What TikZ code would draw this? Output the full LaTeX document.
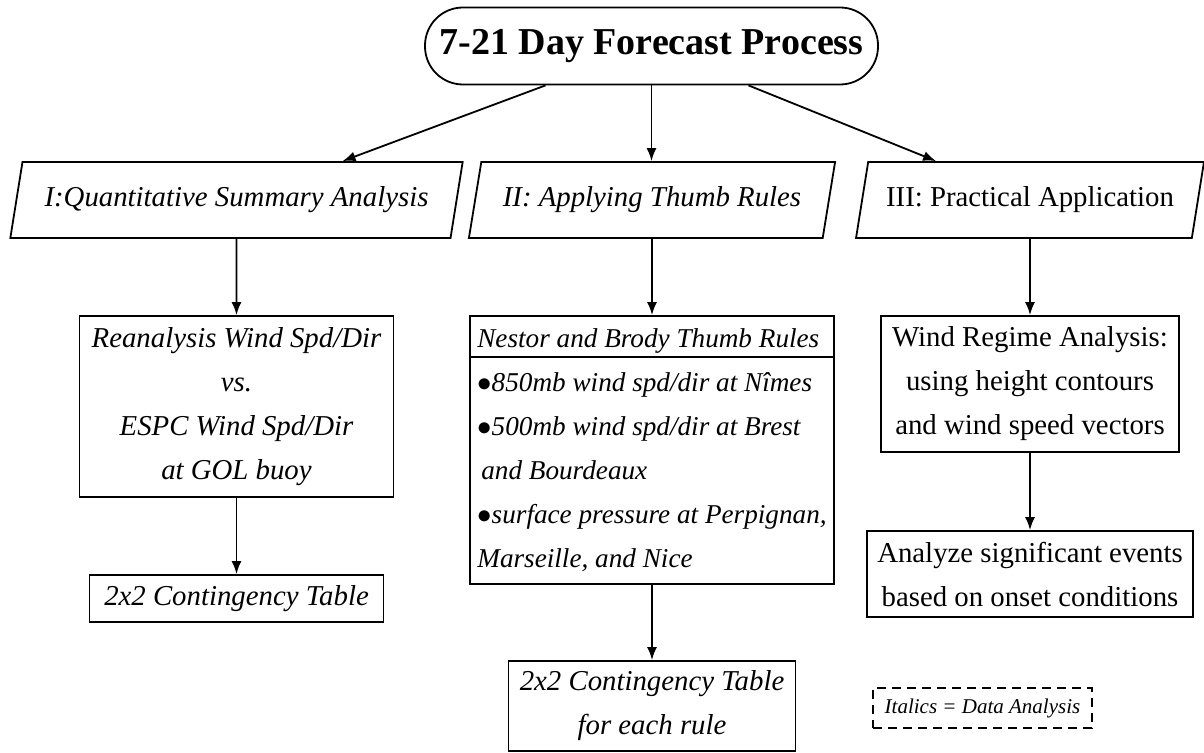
\documentclass[tikz,border=0pt]{standalone}
\usepackage{fontspec}
\setmainfont{Liberation Serif}
\usetikzlibrary{arrows.meta,positioning,shapes.geometric}
\tikzset{
  fcbox/.style={draw=black, line width=0.9pt, align=center, inner sep=2pt, font=\fontsize{14.4}{22}\selectfont},
  fcitbox/.style={fcbox, font=\fontsize{14.4}{22}\selectfont\itshape},
  fcpara/.style={draw=black, line width=0.9pt, trapezium, trapezium left angle=72, trapezium right angle=108, trapezium stretches=true, minimum height=38pt, inner sep=2pt, font=\fontsize{14.4}{17}\selectfont},
  fctitle/.style={draw=black, line width=0.9pt, rounded corners=19pt, minimum width=226.5pt, minimum height=38.5pt, font=\fontsize{19}{23}\selectfont\bfseries},
  fckey/.style={draw=black, dash pattern=on 4.5pt off 3pt, line width=0.9pt, minimum width=109.5pt, minimum height=20pt, font=\fontsize{10.5}{12}\selectfont\itshape},
  fcline/.style={-{Latex[length=6.5pt,width=5pt]}, line width=0.9pt}
}

\begin{document}
\begin{tikzpicture}[x=0.5pt, y=-0.5pt]
  \useasboundingbox (0,0) rectangle (1204,753);
  % top
  \node[fctitle] (title) at (651.5,46) {7-21 Day Forecast Process};
  % the three branches
  \node[fcpara, minimum width=226.5pt] (quant) at (236.5,200) {\itshape I:Quantitative Summary Analysis};
  \node[fcpara, minimum width=183.5pt] (thumb) at (652,200) {\itshape II: Applying Thumb Rules};
  \node[fcpara, minimum width=174pt] (pract) at (1030,200) {III: Practical Application};
  % column I
  \node[fcitbox, minimum width=157pt, minimum height=90.5pt] (rean) at (236.5,406.5)
    {Reanalysis Wind Spd/Dir\\vs.\\ESPC Wind Spd/Dir\\at GOL buoy};
  \node[fcitbox, minimum width=147pt, minimum height=23.5pt] (table) at (236.5,598.5) {2x2 Contingency Table};
  % column II
  \node[fcitbox, font=\fontsize{13.6}{22}\selectfont\itshape, align=left, minimum width=182pt, minimum height=134pt] (rules) at (652,450)
    {Nestor and Brody Thumb Rules\\
     $\bullet$850mb wind spd/dir at Nîmes\\
     $\bullet$500mb wind spd/dir at Brest\\
     \hspace{2pt}and Bourdeaux\\
     $\bullet$surface pressure at Perpignan,\\
     Marseille, and Nice};
  \draw[line width=0.9pt] ([yshift=-21pt]rules.north west) -- ([yshift=-21pt]rules.north east);
  \node[fcitbox, minimum width=143.5pt, minimum height=45pt] (ruletab) at (652,706)
    {2x2 Contingency Table\\for each rule};
  % column III
  \node[fcbox, minimum width=149pt, minimum height=68pt] (regime) at (1030,384)
    {Wind Regime Analysis:\\using height contours\\and wind speed vectors};
  \node[fcbox, minimum width=163pt, minimum height=43pt] (events) at (1030,574)
    {Analyze significant events\\based on onset conditions};
  % key
  \node[fckey] (key) at (982.5,708) {Italics = Data Analysis};
  % arrows
  \draw[fcline] ([xshift=-53pt]title.south) -- ([xshift=53pt]quant.north);
  \draw[fcline] (title.south) -- (title.south |- thumb.north);
  \draw[fcline] ([xshift=48.5pt]title.south) -- ([xshift=-47pt]pract.north);
  \draw[fcline] (quant) -- (rean);
  \draw[fcline] (rean) -- (table);
  \draw[fcline] (thumb) -- (rules);
  \draw[fcline] (rules) -- (ruletab);
  \draw[fcline] (pract) -- (regime);
  \draw[fcline] (regime) -- (events);
\end{tikzpicture}
\end{document}
